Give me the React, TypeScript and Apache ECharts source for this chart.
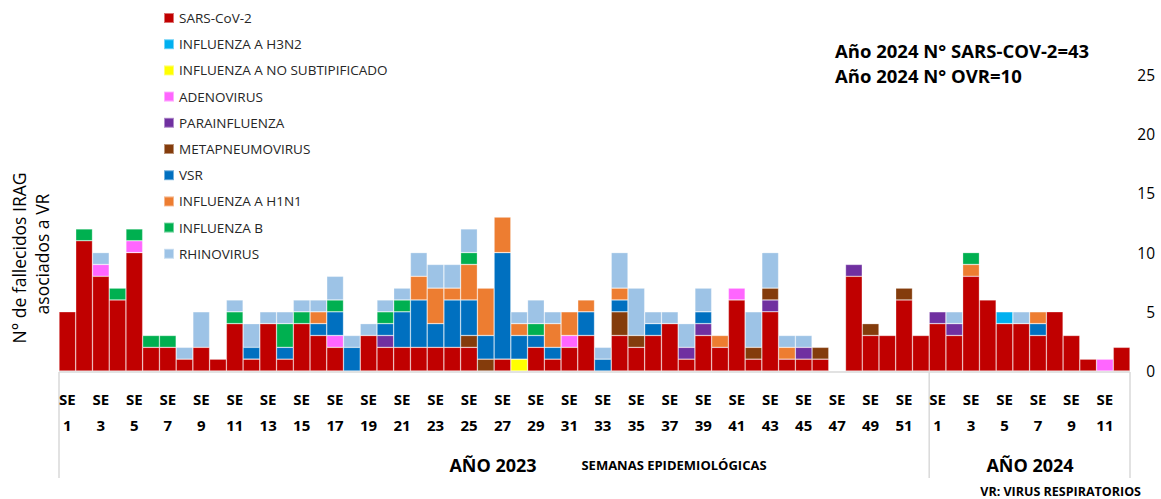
import React, { useEffect, useRef } from "react";
import * as echarts from "echarts";

// Weeks (categories): 52 weeks of 2023, 12 weeks of 2024
const weeks2023 = Array.from({ length: 52 }, (_, i) => i + 1);
const weeks2024 = Array.from({ length: 12 }, (_, i) => i + 1);
const categories = [
  ...weeks2023.map((w) => `2023 SE ${w}`),
  ...weeks2024.map((w) => `2024 SE ${w}`),
];

const seriesNames = [
  "SARS-CoV-2",
  "INFLUENZA A H3N2",
  "INFLUENZA A NO SUBTIPIFICADO",
  "ADENOVIRUS",
  "PARAINFLUENZA",
  "METAPNEUMOVIRUS",
  "VSR",
  "INFLUENZA A H1N1",
  "INFLUENZA B",
  "RHINOVIRUS",
];
const seriesColors = [
  "#C00000",
  "#00B0F0",
  "#FFFF00",
  "#FF66FF",
  "#7030A0",
  "#843C0C",
  "#0070C0",
  "#ED7D31",
  "#00B050",
  "#9DC3E6",
];

//                     1  2  3  4  5  6  7  8  9 10 11 12 13 14 15 16 17 18 19 20 21 22 23 24 25 26 27 28 29 30 31 32 33 34 35 36 37 38 39 40 41 42 43 44 45 46 47 48 49 50 51 52 | 1 2 3 4 5 6 7 8 9 10 11 12
const sarsCov2 = [5, 11, 8, 6, 10, 2, 2, 1, 2, 1, 4, 1, 4, 1, 4, 3, 2, 0, 3, 2, 2, 2, 2, 2, 2, 0, 1, 0, 2, 1, 2, 3, 0, 3, 2, 3, 4, 1, 3, 2, 6, 1, 5, 1, 1, 1, 0, 8, 3, 3, 6, 3, 4, 3, 8, 6, 4, 4, 3, 5, 3, 1, 0, 2];
const fluAH3N2 = [0, 0, 0, 0, 0, 0, 0, 0, 0, 0, 0, 0, 0, 0, 0, 0, 0, 0, 0, 0, 0, 0, 0, 0, 0, 0, 0, 0, 0, 0, 0, 0, 0, 0, 0, 0, 0, 0, 0, 0, 0, 0, 0, 0, 0, 0, 0, 0, 0, 0, 0, 0, 0, 0, 0, 0, 1, 0, 0, 0, 0, 0, 0, 0];
const fluANoSub = [0, 0, 0, 0, 0, 0, 0, 0, 0, 0, 0, 0, 0, 0, 0, 0, 0, 0, 0, 0, 0, 0, 0, 0, 0, 0, 0, 1, 0, 0, 0, 0, 0, 0, 0, 0, 0, 0, 0, 0, 0, 0, 0, 0, 0, 0, 0, 0, 0, 0, 0, 0, 0, 0, 0, 0, 0, 0, 0, 0, 0, 0, 0, 0];
const adenovirus = [0, 0, 1, 0, 1, 0, 0, 0, 0, 0, 0, 0, 0, 0, 0, 0, 1, 0, 0, 0, 0, 0, 0, 0, 0, 0, 0, 0, 0, 0, 1, 0, 0, 0, 0, 0, 0, 0, 0, 0, 1, 0, 0, 0, 0, 0, 0, 0, 0, 0, 0, 0, 0, 0, 0, 0, 0, 0, 0, 0, 0, 0, 1, 0];
const parainfluenza = [0, 0, 0, 0, 0, 0, 0, 0, 0, 0, 0, 0, 0, 0, 0, 0, 0, 0, 0, 1, 0, 0, 0, 0, 0, 0, 0, 0, 0, 0, 0, 0, 0, 0, 0, 0, 0, 1, 1, 0, 0, 0, 1, 0, 1, 0, 0, 1, 0, 0, 0, 0, 1, 1, 0, 0, 0, 0, 0, 0, 0, 0, 0, 0];
const metapneumovirus = [0, 0, 0, 0, 0, 0, 0, 0, 0, 0, 0, 0, 0, 0, 0, 0, 0, 0, 0, 0, 0, 0, 0, 0, 1, 1, 0, 0, 0, 0, 0, 0, 0, 2, 1, 0, 0, 0, 0, 0, 0, 1, 1, 0, 0, 1, 0, 0, 1, 0, 1, 0, 0, 0, 0, 0, 0, 0, 0, 0, 0, 0, 0, 0];
const vsr = [0, 0, 0, 0, 0, 0, 0, 0, 0, 0, 0, 1, 0, 1, 0, 1, 2, 2, 0, 1, 3, 4, 2, 4, 3, 2, 9, 2, 1, 1, 0, 2, 1, 1, 0, 1, 0, 0, 1, 0, 0, 0, 0, 0, 0, 0, 0, 0, 0, 0, 0, 0, 0, 0, 0, 0, 0, 0, 1, 0, 0, 0, 0, 0];
const fluAH1N1 = [0, 0, 0, 0, 0, 0, 0, 0, 0, 0, 0, 0, 0, 0, 0, 1, 0, 0, 0, 0, 0, 2, 3, 1, 3, 4, 3, 1, 0, 2, 2, 1, 0, 1, 0, 0, 0, 0, 0, 1, 0, 0, 0, 1, 0, 0, 0, 0, 0, 0, 0, 0, 0, 0, 1, 0, 0, 0, 1, 0, 0, 0, 0, 0];
const fluB = [0, 1, 0, 1, 1, 1, 1, 0, 0, 0, 1, 0, 0, 2, 1, 0, 1, 0, 0, 1, 1, 0, 0, 0, 1, 0, 0, 0, 1, 0, 0, 0, 0, 0, 0, 0, 0, 0, 0, 0, 0, 0, 0, 0, 0, 0, 0, 0, 0, 0, 0, 0, 0, 0, 1, 0, 0, 0, 0, 0, 0, 0, 0, 0];
const rhinovirus = [0, 0, 1, 0, 0, 0, 0, 1, 3, 0, 1, 2, 1, 1, 1, 1, 2, 1, 1, 1, 1, 2, 2, 2, 2, 0, 0, 1, 2, 1, 0, 0, 1, 3, 4, 1, 1, 2, 2, 0, 0, 3, 3, 1, 1, 0, 0, 0, 0, 0, 0, 0, 0, 1, 0, 0, 0, 1, 0, 0, 0, 0, 0, 0];

const seriesValues = [
  sarsCov2,
  fluAH3N2,
  fluANoSub,
  adenovirus,
  parainfluenza,
  metapneumovirus,
  vsr,
  fluAH1N1,
  fluB,
  rhinovirus,
];

const yTicks = [0, 5, 10, 15, 20, 25];

const FONT = "'Open Sans', 'Liberation Sans', sans-serif";

export default function App() {
  const ref = useRef<HTMLDivElement>(null);

  useEffect(() => {
    if (!ref.current) return;
    const chart = echarts.init(ref.current, null, { renderer: "svg" });

    const gridLeft = 59;
    const gridRight = 31;
    const gridTop = 75;
    const gridBottom = 128;
    const W = 1161;
    const H = 499;
    const plotRight = W - gridRight;
    const baseY = H - gridBottom;
    const sepX = gridLeft + (weeks2023.length * (plotRight - gridLeft)) / categories.length;

    const boxColor = "#D9D9D9";

    chart.setOption({
      animation: false,
      backgroundColor: "#ffffff",
      textStyle: { fontFamily: FONT },
      grid: { left: gridLeft, right: gridRight, top: gridTop, bottom: gridBottom },
      legend: {
        orient: "vertical",
        left: 158,
        top: 6,
        itemWidth: 10,
        itemHeight: 10,
        itemGap: 12.2,
        icon: "rect",
        data: seriesNames,
        textStyle: { fontFamily: FONT, fontSize: 13.5, color: "#262626", lineHeight: 14 },
      },
      xAxis: {
        type: "category",
        data: categories,
        axisLine: { show: false },
        axisTick: { show: false },
        splitLine: { show: false },
        axisLabel: {
          interval: 1,
          margin: 15,
          fontFamily: FONT,
          fontSize: 15,
          fontWeight: "bold",
          color: "#000",
          lineHeight: 26,
          formatter: (v: string) => "SE\n" + v.split(" ")[2],
        },
      },
      yAxis: {
        type: "value",
        position: "right",
        min: yTicks[0],
        max: yTicks[yTicks.length - 1],
        interval: 5,
        axisLine: { show: false },
        axisTick: { show: false },
        splitLine: { show: false },
        axisLabel: {
          margin: 25,
          align: "right",
          fontFamily: FONT,
          fontSize: 15.5,
          color: "#000",
        },
      },
      series: seriesNames.map((name, k) => ({
        name,
        type: "bar",
        stack: "total",
        barCategoryGap: "0%",
        barGap: "0%",
        itemStyle: {
          color: seriesColors[k],
          borderColor: "rgba(255,255,255,0.45)",
          borderWidth: 0.6,
        },
        data: seriesValues[k].map((v) => (v === 0 ? null : v)),
      })),
      graphic: [
        // table lines below the axis
        { type: "line", silent: true, shape: { x1: gridLeft, y1: baseY + 1, x2: plotRight, y2: baseY + 1 }, style: { stroke: boxColor, lineWidth: 1.5 } },
        { type: "line", silent: true, shape: { x1: gridLeft, y1: baseY + 1, x2: gridLeft, y2: 478 }, style: { stroke: boxColor, lineWidth: 1.5 } },
        { type: "line", silent: true, shape: { x1: sepX, y1: baseY + 1, x2: sepX, y2: 478 }, style: { stroke: boxColor, lineWidth: 1.5 } },
        { type: "line", silent: true, shape: { x1: plotRight, y1: baseY + 1, x2: plotRight, y2: 478 }, style: { stroke: boxColor, lineWidth: 1.5 } },
        // y-axis title
        {
          type: "text",
          x: 19,
          y: 258,
          rotation: Math.PI / 2,
          style: { text: "N° de fallecidos IRAG", font: `17.5px ${FONT}`, fill: "#000", textAlign: "center", textVerticalAlign: "middle" },
        },
        {
          type: "text",
          x: 42,
          y: 254,
          rotation: Math.PI / 2,
          style: { text: "asociados a VR", font: `17.5px ${FONT}`, fill: "#000", textAlign: "center", textVerticalAlign: "middle" },
        },
        // annotations
        {
          type: "text",
          x: 835,
          y: 50,
          style: { text: "Año 2024 N° SARS-COV-2=43", font: `bold 18.5px ${FONT}`, fill: "#000", textAlign: "left", textVerticalAlign: "middle" },
        },
        {
          type: "text",
          x: 835,
          y: 75,
          style: { text: "Año 2024 N° OVR=10", font: `bold 18.5px ${FONT}`, fill: "#000", textAlign: "left", textVerticalAlign: "middle" },
        },
        {
          type: "text",
          x: 493,
          y: 465,
          style: { text: "AÑO 2023", font: `bold 18px ${FONT}`, fill: "#000", textAlign: "center", textVerticalAlign: "middle" },
        },
        {
          type: "text",
          x: 674,
          y: 465,
          style: { text: "SEMANAS EPIDEMIOLÓGICAS", font: `bold 13px ${FONT}`, fill: "#000", textAlign: "center", textVerticalAlign: "middle" },
        },
        {
          type: "text",
          x: 1030,
          y: 465,
          style: { text: "AÑO 2024", font: `bold 18px ${FONT}`, fill: "#000", textAlign: "center", textVerticalAlign: "middle" },
        },
        {
          type: "text",
          x: 1141,
          y: 491,
          style: { text: "VR: VIRUS RESPIRATORIOS", font: `bold 12.5px ${FONT}`, fill: "#000", textAlign: "right", textVerticalAlign: "middle" },
        },
      ],
    });

    return () => chart.dispose();
  }, []);

  return (
    <div
      ref={ref}
      style={{ position: "fixed", left: 0, top: 0, width: 1161, height: 499, background: "#fff" }}
    />
  );
}
